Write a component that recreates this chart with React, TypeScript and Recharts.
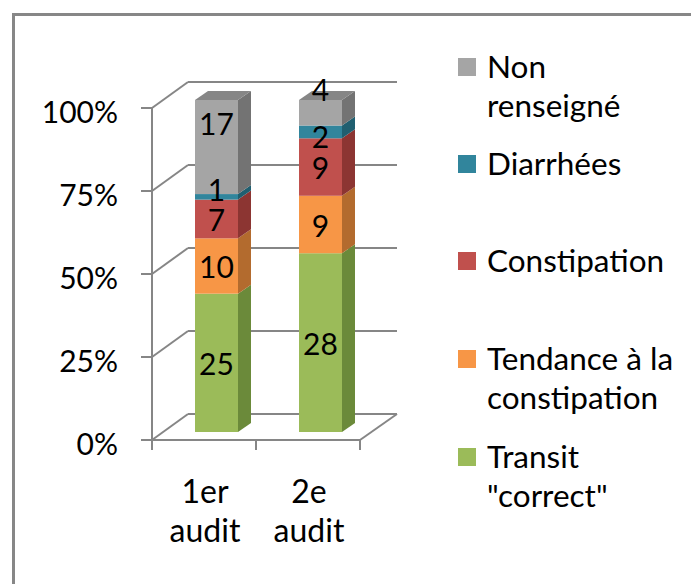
import React from 'react';
import { BarChart, Bar, XAxis, YAxis, CartesianGrid, LabelList, Legend } from 'recharts';

// ---------- data ----------
const categories = ['1er audit', '2e audit'];
const transitCorrect = [25, 28];
const tendanceConstipation = [10, 9];
const constipation = [7, 9];
const diarrhees = [1, 2];
const nonRenseigne = [17, 4];
const percentTicks = [0, 0.25, 0.5, 0.75, 1];

const seriesKeys = ['transit', 'tendance', 'constipation', 'diarrhees', 'nonRenseigne'];
const seriesNames = ['Transit\n"correct"', 'Tendance à la\nconstipation', 'Constipation', 'Diarrhées', 'Non\nrenseigné'];
const seriesValues = [transitCorrect, tendanceConstipation, constipation, diarrhees, nonRenseigne];

// ---------- styles ----------
const frontColors = ['#9BBB59', '#F79646', '#C0504D', '#31859C', '#A5A5A5'];
const sideColors = ['#6B8A3A', '#B36B2E', '#8C3532', '#205F70', '#737373'];
const topColors = ['#7F9C45', '#D07A38', '#A44240', '#28708A', '#868686'];
const FONT = 'Lato, Carlito, Calibri, "Open Sans", sans-serif';
const AXIS_COLOR = '#868686';
const DEPTH_X = 13;
const DEPTH_Y = 9;
const PLOT_LEFT = 164;
const PLOT_BOTTOM = 432;
// front plane offset from bar plane, back plane offset from bar plane
const FRONT_DX = -12;
const FRONT_DY = 8;
const BACK_DX = 24;
const BACK_DY = -18;
const HALF_BAND = 52;
// label nudges (layout only) keyed by series-category
const labelNudge: Record<string, number> = {
  'nonRenseigne-0': -24,
  'diarrhees-0': -8,
  'nonRenseigne-1': -24,
  'diarrhees-1': 4,
};
const legendFirstLineCenters = [67, 164, 261, 359, 457];

const data = categories.map((category, i) => {
  const row: Record<string, string | number> = { category };
  seriesKeys.forEach((k, s) => {
    row[k] = seriesValues[s][i];
  });
  return row;
});

const makeShape = (s: number, isTop: boolean) => (props: any) => {
  const { x, y, width, height } = props;
  if (width == null || height == null || isNaN(y)) return <g />;
  const h = Math.abs(height);
  const top = Math.min(y, y + height);
  return (
    <g>
      <rect x={x} y={top} width={width} height={h} fill={frontColors[s]} />
      <polygon
        points={`${x + width},${top} ${x + width + DEPTH_X},${top - DEPTH_Y} ${x + width + DEPTH_X},${top + h - DEPTH_Y} ${x + width},${top + h}`}
        fill={sideColors[s]}
      />
      {isTop && (
        <polygon
          points={`${x},${top} ${x + DEPTH_X},${top - DEPTH_Y} ${x + width + DEPTH_X},${top - DEPTH_Y} ${x + width},${top}`}
          fill={topColors[s]}
        />
      )}
    </g>
  );
};

const makeLabel = (key: string) => (props: any) => {
  const { x, y, width, height, value, index } = props;
  if (value == null) return null;
  const nudge = labelNudge[`${key}-${index}`] ?? 0;
  return (
    <text
      x={x + width / 2}
      y={y + height / 2 + nudge}
      textAnchor="middle"
      dominantBaseline="central"
      fontFamily={FONT}
      fontSize={30}
      fill="#000"
    >
      {value}
    </text>
  );
};

const renderGridLine = (props: any) => {
  const { x1, x2, y1 } = props;
  return (
    <g key={props.key ?? `g-${y1}`}>
      <line x1={x1 + FRONT_DX} y1={y1 + FRONT_DY} x2={x1 + BACK_DX} y2={y1 + BACK_DY} stroke={AXIS_COLOR} strokeWidth={2} />
      <line x1={x1 + BACK_DX} y1={y1 + BACK_DY} x2={x2 + BACK_DX + 1} y2={y1 + BACK_DY} stroke={AXIS_COLOR} strokeWidth={2} />
    </g>
  );
};

const renderYTick = (props: any) => {
  const { y, payload } = props;
  const fy = y + FRONT_DY;
  const fx = PLOT_LEFT + FRONT_DX;
  return (
    <g>
      <line x1={fx - 11} y1={fy} x2={fx} y2={fy} stroke={AXIS_COLOR} strokeWidth={2} />
      <text x={118} y={fy + 3} textAnchor="end" dominantBaseline="central" fontFamily={FONT} fontSize={30} fill="#000">
        {`${Math.round(payload.value * 100)}%`}
      </text>
    </g>
  );
};

const renderXTick = (props: any) => {
  const { x, payload, index } = props;
  const cx = x + FRONT_DX;
  const baseY = PLOT_BOTTOM + FRONT_DY;
  const lines = String(payload.value).split(' ');
  const isLast = index === categories.length - 1;
  return (
    <g>
      <line x1={cx - HALF_BAND} y1={baseY} x2={cx - HALF_BAND} y2={baseY + 10} stroke={AXIS_COLOR} strokeWidth={2} />
      <line x1={cx + HALF_BAND} y1={baseY} x2={cx + HALF_BAND} y2={baseY + 10} stroke={AXIS_COLOR} strokeWidth={2} />
      {isLast && (
        <line
          x1={cx + HALF_BAND}
          y1={baseY}
          x2={cx + HALF_BAND + (BACK_DX - FRONT_DX) + 1}
          y2={baseY + (BACK_DY - FRONT_DY)}
          stroke={AXIS_COLOR}
          strokeWidth={2}
        />
      )}
      {lines.map((l, i) => (
        <text
          key={i}
          x={cx + 1}
          y={490 + i * 39}
          textAnchor="middle"
          dominantBaseline="central"
          fontFamily={FONT}
          fontSize={32}
          fill="#000"
        >
          {l}
        </text>
      ))}
    </g>
  );
};

const renderLegend = (props: any) => {
  const items = [...(props.payload ?? [])].sort(
    (a: any, b: any) => seriesKeys.indexOf(b.dataKey) - seriesKeys.indexOf(a.dataKey)
  );
  return (
    <div style={{ position: 'relative', width: 691, height: 584 }}>
      {items.map((it: any, i: number) => {
        const c = legendFirstLineCenters[i];
        return (
          <div key={i}>
            <div
              style={{
                position: 'absolute',
                left: 458,
                top: c - 9,
                width: 18,
                height: 18,
                background: it.color,
              }}
            />
            <div
              style={{
                position: 'absolute',
                left: 487,
                top: c - 20,
                fontFamily: FONT,
                fontSize: 31.5,
                lineHeight: '39px',
                color: '#000',
                whiteSpace: 'pre',
                textAlign: 'left',
              }}
            >
              {it.value}
            </div>
          </div>
        );
      })}
    </div>
  );
};

export default function App() {
  return (
    <div style={{ position: 'fixed', left: 0, top: 0, width: 691, height: 584, background: '#fff', overflow: 'hidden' }}>
      <div
        style={{
          position: 'absolute',
          left: 12,
          top: 13,
          width: 700,
          height: 600,
          borderLeft: '3px solid #878787',
          borderTop: '3px solid #878787',
        }}
      />
      <div style={{ position: 'absolute', left: 0, top: 0 }}>
        <BarChart
          width={691}
          height={584}
          data={data}
          stackOffset="expand"
          margin={{ top: 100, right: 319, bottom: 584 - PLOT_BOTTOM - 30, left: PLOT_LEFT - 60 }}
          barSize={43}
        >
          <CartesianGrid vertical={false} horizontal={renderGridLine} />
          <XAxis
            dataKey="category"
            height={30}
            axisLine={{ stroke: AXIS_COLOR, strokeWidth: 2, transform: `translate(${FRONT_DX},${FRONT_DY})` } as any}
            tickLine={false}
            tick={renderXTick}
            interval={0}
          />
          <YAxis
            width={60}
            domain={[0, 1]}
            ticks={percentTicks}
            axisLine={{ stroke: AXIS_COLOR, strokeWidth: 2, transform: `translate(${FRONT_DX},${FRONT_DY})` } as any}
            tickLine={false}
            tick={renderYTick}
            interval={0}
          />
          <Legend
            layout="vertical"
            align="center"
            verticalAlign="middle"
            wrapperStyle={{ position: 'absolute', left: 0, top: 0, width: 691, height: 584 }}
            content={renderLegend}
          />
          {seriesKeys.map((k, s) => (
            <Bar
              key={k}
              dataKey={k}
              name={seriesNames[s]}
              stackId="a"
              fill={frontColors[s]}
              isAnimationActive={false}
              shape={makeShape(s, s === seriesKeys.length - 1)}
            >
              <LabelList dataKey={k} content={makeLabel(k)} />
            </Bar>
          ))}
        </BarChart>
      </div>
    </div>
  );
}
